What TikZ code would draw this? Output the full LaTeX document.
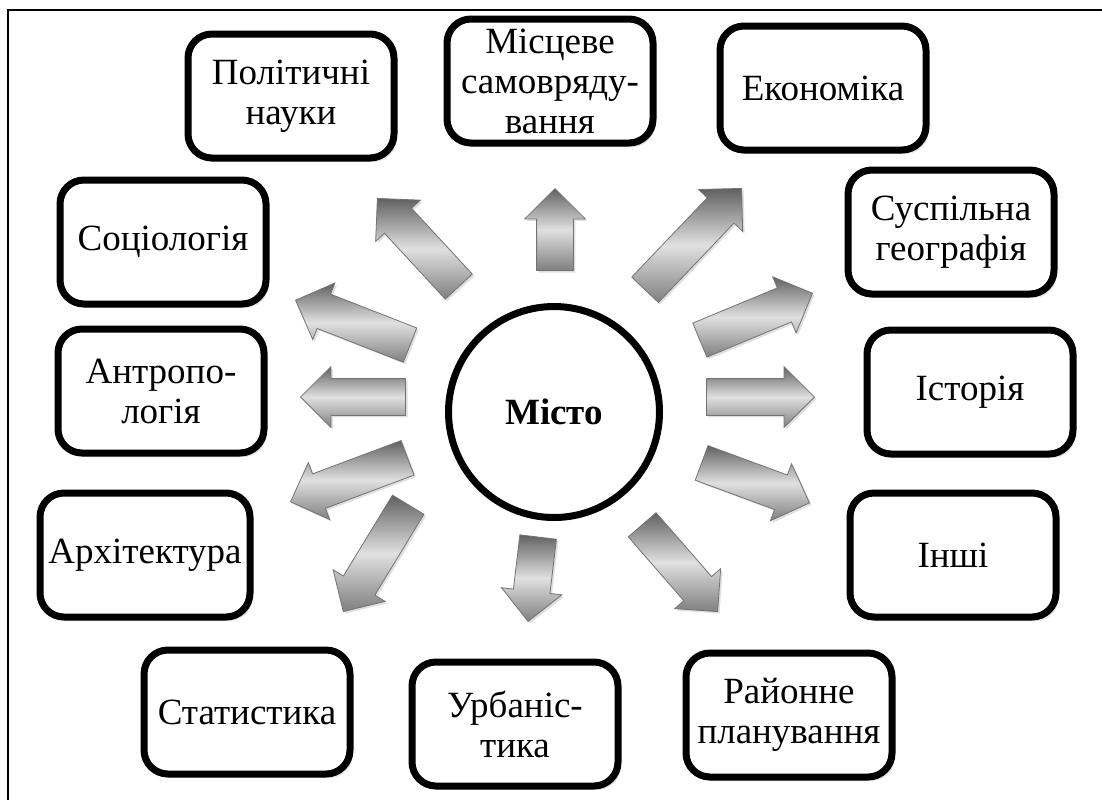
\documentclass[tikz,border=0pt]{standalone}
\usepackage{fontspec}
\setmainfont{Liberation Serif}
\usetikzlibrary{shapes,shapes.arrows,shadows,positioning,calc}
\tikzset{
  frm/.style    = { line width=1.3pt },
  disc/.style   = { draw, line width=3.5pt, rounded corners=12pt, fill=white,
    minimum width=103pt, minimum height=62pt, inner sep=2pt, align=center,
    font=\fontsize{18.5}{20}\selectfont,
    drop shadow={opacity=0.22, shadow xshift=1.5pt, shadow yshift=-2pt} },
  city/.style   = { draw, circle, line width=3.5pt, fill=white, minimum size=105.5pt,
    font=\fontsize{18.5}{20}\selectfont\bfseries,
    drop shadow={opacity=0.2, shadow xshift=1pt, shadow yshift=-1.5pt} },
  blkarr/.style = { single arrow, draw=black!55, line width=0.4pt,
    inner xsep=0pt, inner ysep=9pt, single arrow head extend=6pt,
    single arrow tip angle=90, anchor=tip,
    top color=black!62, bottom color=black!50, middle color=black!12,
    drop shadow={opacity=0.25, shadow xshift=1pt, shadow yshift=-1pt} }
}
\begin{document}
\begin{tikzpicture}[x=0.5pt,y=-0.5pt]
      \useasboundingbox (0,0) rectangle (1102,800);
      % frame
      \draw[frm] (1102,10) -- (8,10) -- (8,800);
      % centre
      \node[city] (misto) at (554,412) {Місто};
      % boxes
      \node[disc] (pol) at (291,96) {Політичні\\науки};
      \node[disc] (mis) at (550,81) {Місцеве\\самовряду-\\вання};
      \node[disc] (eko) at (823,88) {Економіка};
      \node[disc] (sus) at (951,232) {Суспільна\\географія};
      \node[disc] (soc) at (163,242) {Соціологія};
      \node[disc] (ant) at (161,391) {Антропо-\\логія};
      \node[disc] (ist) at (970,392) {Історія};
      \node[disc, minimum width=105pt] (arh) at (145,555) {Архітектура};
      \node[disc] (inshi) at (953,555) {Інші};
      \node[disc] (stat) at (247,712) {Статистика};
      \node[disc] (urb) at (515,724) {Урбаніс-\\тика};
      \node[disc] (ray) at (789,715) {Районне\\планування};
      % arrows
      \node[blkarr, rotate=158.6, minimum height=61.5pt] (a-soc) at (295,300) {};
      \node[blkarr, rotate=200.6, minimum height=62.5pt] (a-arh) at (290,502) {};
      \node[blkarr, rotate=180, minimum height=52.5pt] (a-ant) at (300,397) {};
      \node[blkarr, rotate=0, minimum height=54pt] (a-ist) at (815,397) {};
      \node[blkarr, rotate=22.6, minimum height=61pt] (a-sus) at (813,293) {};
      \node[blkarr, rotate=-20.3, minimum height=57.5pt] (a-inshi) at (810,503) {};
      \node[blkarr, rotate=132.7, minimum height=60pt] (a-pol) at (377,198) {};
      \node[blkarr, rotate=90, minimum height=41pt] (a-mis) at (555,188) {};
      \node[blkarr, rotate=46.4, minimum height=70pt] (a-eko) at (742,188) {};
      \node[blkarr, rotate=-49, minimum height=57.5pt] (a-ray) at (718,612) {};
      \node[blkarr, rotate=-96.8, minimum height=42.5pt] (a-urb) at (528,622) {};
      \node[blkarr, rotate=238.7, minimum height=62.5pt] (a-stat) at (343,612) {};
\end{tikzpicture}
\end{document}
